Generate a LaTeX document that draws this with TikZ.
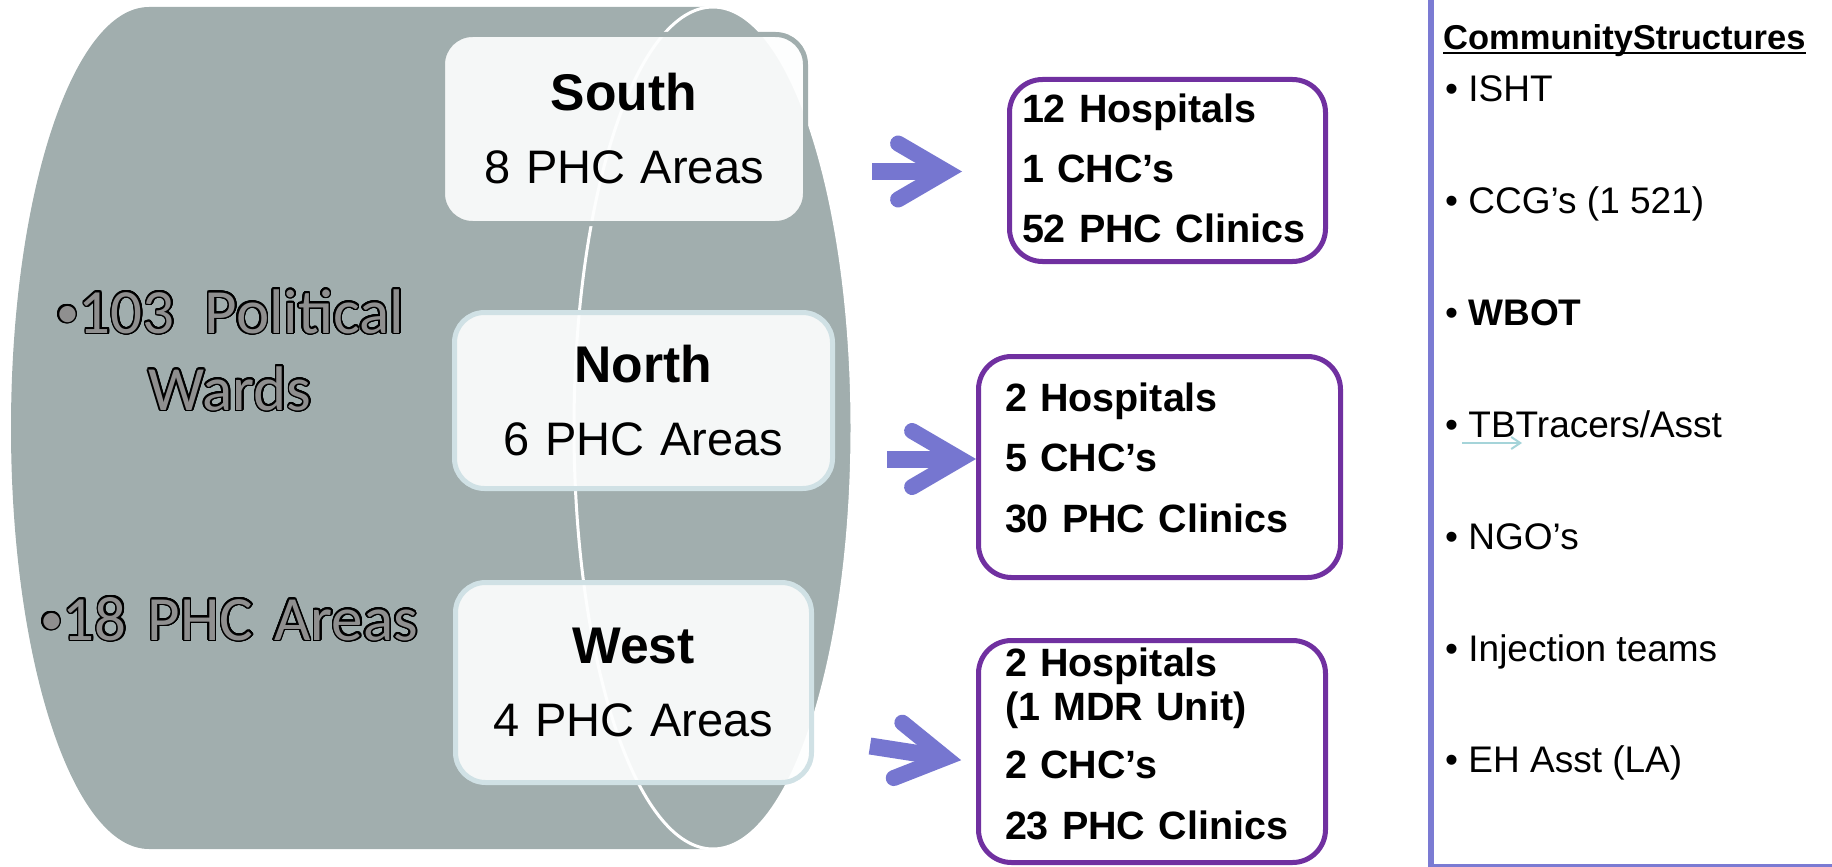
\documentclass[tikz,border=0pt]{standalone}
\usepackage{fontspec}
\setmainfont{Liberation Sans}
\newfontfamily\calfont{Carlito}
\usepackage[copies]{contour}
\usetikzlibrary{arrows.meta}

\definecolor{cylgray}{RGB}{161,174,174}
\definecolor{boxfill}{RGB}{253,254,254}
\definecolor{boxedge}{RGB}{208,225,229}
\definecolor{arrowblue}{RGB}{118,118,208}
\definecolor{clinicpurple}{RGB}{112,48,160}
\definecolor{panelblue}{RGB}{123,123,211}
\definecolor{tbcyan}{RGB}{165,212,217}
\definecolor{wardgray}{RGB}{143,143,143}

\newcommand{\clinicpad}[1]{\rule[-#1pt]{0pt}{#1pt}}
\newcommand{\wardbullet}{\raisebox{6pt}{\fontsize{46}{77}\selectfont•}}
\contourlength{1.6pt}
\contournumber{24}

\tikzset{
  area/.style={rounded corners=30pt, line width=5pt, fill=boxfill, fill opacity=.92, text opacity=1,
    align=center, text width=300pt, inner sep=0pt, font=\fontsize{47}{73}\selectfont},
  clinics/.style={draw=clinicpurple, line width=5pt, rounded corners=33pt, fill=white, align=left,
    inner ysep=0pt, font=\bfseries\fontsize{39.5}{44}\selectfont},
  bigarrow/.style={draw=arrowblue, line width=17pt,
    -{Straight Barb[length=48pt, width=56pt, line width=16pt, line cap=round, line join=miter]}},
  wards/.style={text=wardgray, align=center, text width=440pt, inner sep=0pt, anchor=base,
    font=\calfont\fontsize{63}{77}\selectfont},
  listitem/.style={anchor=base west, inner sep=0pt, font=\fontsize{37}{44}\selectfont},
  panel/.style={draw=panelblue, line width=6pt}
}

\begin{document}
\begin{tikzpicture}[x=1pt,y=-1pt]
\useasboundingbox (0,0) rectangle (1832,867);

\fill[cylgray] (149,7) arc[start angle=270, end angle=90, x radius=138, y radius=421]
  -- (713,849) arc[start angle=90, end angle=-90, x radius=139, y radius=421] -- cycle;
\draw[white, line width=3pt] (713,428) ellipse [x radius=139, y radius=421];

\node[wards] (wards) at (230,333) {\contour{black}{\wardbullet103\hspace{30pt}Political}\\\contour{black}{Wards}};
\node[wards] (phc) at (229,640) {\contour{black}{\wardbullet18 PHC Areas}};

\node[area, draw=cylgray, minimum width=363pt, minimum height=189pt] (south) at (624,129)
  {{\fontsize{51.6}{73}\selectfont\bfseries South}\\8 PHC Areas};
\node[area, draw=boxedge, minimum width=378pt, minimum height=176pt] (north) at (643.5,400.5)
  {{\fontsize{51.6}{73}\selectfont\bfseries North}\\6 PHC Areas};
\node[area, draw=boxedge, minimum width=356pt, minimum height=200pt] (west) at (633.5,682.5)
  {{\fontsize{51.6}{73}\selectfont\bfseries West}\\4 PHC Areas};

\node[clinics, minimum width=316pt, minimum height=182pt, text width=291pt, inner xsep=12.5pt] (hosp1) at (1167.5,170.5)
  {12 Hospitals\\[16pt]1 CHC’s\\[16pt]52 PHC Clinics\clinicpad{4}};
\node[clinics, minimum width=362pt, minimum height=221pt, text width=309pt, inner xsep=26.5pt] (hosp2) at (1159.5,467)
  {2 Hospitals\\[16pt]5 CHC’s\\[17pt]30 PHC Clinics\clinicpad{18}};
\node[clinics, minimum width=347pt, minimum height=222pt, text width=294pt, inner xsep=26.5pt] (hosp3) at (1152,751.5)
  {2 Hospitals\\(1 MDR Unit)\\[14pt]2 CHC’s\\[17pt]23 PHC Clinics\clinicpad{15}};

\coordinate (a1) at (872,171.5);
\coordinate (a2) at (887,459);
\coordinate (a3) at (870,746);
\draw[bigarrow, shorten >=45pt] (a1) -- (a1 -| hosp1.west);
\draw[bigarrow] (a2) -- (a2 -| hosp2.west);
\draw[bigarrow, shorten >=15pt] (a3) -- ([yshift=-11pt]hosp3.west);

\draw[panel] (1431,-10) -- (1431,867) -- (1840,867);
\node[anchor=base west, inner sep=0pt, font=\bfseries\fontsize{34.5}{40}\selectfont] (cs) at (1443,50) {CommunityStructures};
\draw[line width=2.5pt] ([yshift=-3pt]cs.base west) -- ([yshift=-3pt]cs.base east);
\foreach \entry [count=\i] in {ISHT, {CCG’s (1 521)}, \textbf{WBOT}, TBTracers/Asst, NGO’s, Injection teams, {EH Asst (LA)}}
  \node[listitem] (item\i) at (1445, {102+111.8*(\i-1)}) {•\ \entry};

\coordinate (tb1) at (1462,443);
\coordinate (tb2) at (1522,443);
\draw[tbcyan, line width=2pt, -{Straight Barb[length=9pt, width=12pt]}] (tb1) -- (tb2);
\end{tikzpicture}
\end{document}
